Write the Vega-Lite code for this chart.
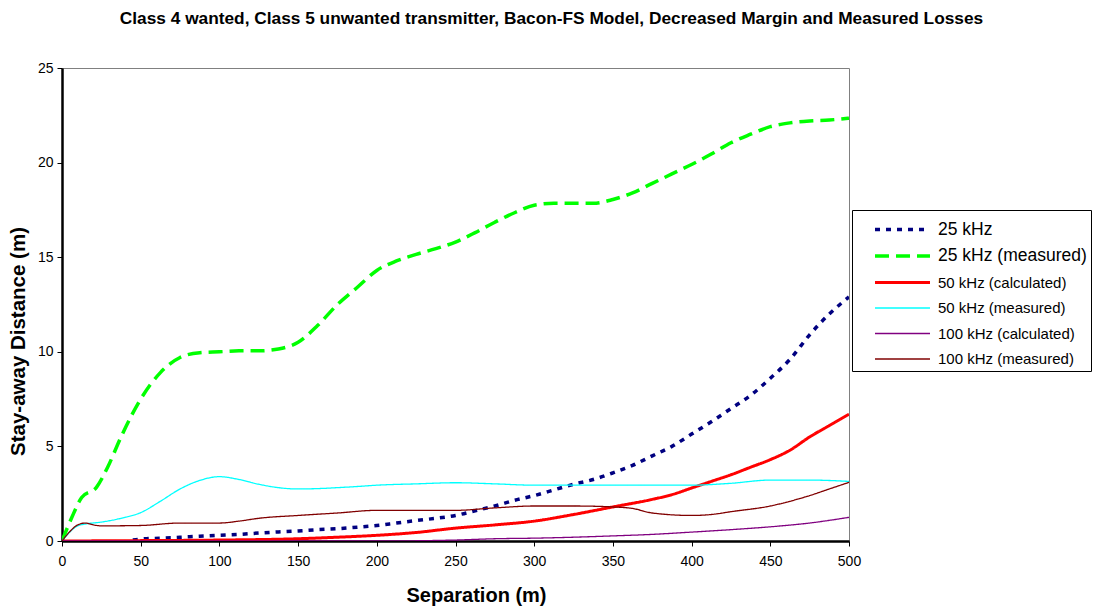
{
  "$schema": "https://vega.github.io/schema/vega-lite/v6.json",
  "autosize": "none",
  "width": 787,
  "height": 473,
  "padding": {"left": 62, "top": 68, "right": 246, "bottom": 67},
  "background": "white",
  "title": {
    "text": "Class 4 wanted, Class 5 unwanted transmitter, Bacon-FS Model, Decreased Margin and Measured Losses",
    "font": "Liberation Sans",
    "fontSize": 17.3,
    "fontWeight": "bold",
    "color": "black",
    "anchor": "middle",
    "dx": 96,
    "offset": 34
  },
  "config": {
    "view": {"stroke": "#808080", "strokeWidth": 1},
    "font": "Liberation Sans"
  },
  "datasets": {
    "d": [
      {"s": "25 kHz", "x": 45, "y": 0.05},
      {"s": "25 kHz", "x": 50, "y": 0.1},
      {"s": "25 kHz", "x": 62.5, "y": 0.15},
      {"s": "25 kHz", "x": 75, "y": 0.2},
      {"s": "25 kHz", "x": 87.5, "y": 0.25},
      {"s": "25 kHz", "x": 100, "y": 0.3},
      {"s": "25 kHz", "x": 112.5, "y": 0.35},
      {"s": "25 kHz", "x": 125, "y": 0.42},
      {"s": "25 kHz", "x": 137.5, "y": 0.48},
      {"s": "25 kHz", "x": 150, "y": 0.53},
      {"s": "25 kHz", "x": 162.5, "y": 0.6},
      {"s": "25 kHz", "x": 175, "y": 0.65},
      {"s": "25 kHz", "x": 187.5, "y": 0.73},
      {"s": "25 kHz", "x": 200, "y": 0.82},
      {"s": "25 kHz", "x": 212.5, "y": 0.95},
      {"s": "25 kHz", "x": 225, "y": 1.08},
      {"s": "25 kHz", "x": 237.5, "y": 1.2},
      {"s": "25 kHz", "x": 250, "y": 1.35},
      {"s": "25 kHz", "x": 262.5, "y": 1.6},
      {"s": "25 kHz", "x": 275, "y": 1.85},
      {"s": "25 kHz", "x": 287.5, "y": 2.15},
      {"s": "25 kHz", "x": 300, "y": 2.4},
      {"s": "25 kHz", "x": 312.5, "y": 2.7},
      {"s": "25 kHz", "x": 325, "y": 3.0},
      {"s": "25 kHz", "x": 337.5, "y": 3.25},
      {"s": "25 kHz", "x": 350, "y": 3.6},
      {"s": "25 kHz", "x": 362.5, "y": 4.0},
      {"s": "25 kHz", "x": 375, "y": 4.5},
      {"s": "25 kHz", "x": 387.5, "y": 5.0},
      {"s": "25 kHz", "x": 400, "y": 5.65},
      {"s": "25 kHz", "x": 412.5, "y": 6.3},
      {"s": "25 kHz", "x": 425, "y": 7.0},
      {"s": "25 kHz", "x": 437.5, "y": 7.7},
      {"s": "25 kHz", "x": 450, "y": 8.6},
      {"s": "25 kHz", "x": 462.5, "y": 9.6},
      {"s": "25 kHz", "x": 475, "y": 10.9},
      {"s": "25 kHz", "x": 487.5, "y": 12.0},
      {"s": "25 kHz", "x": 500, "y": 12.9},

      {"s": "25 kHz (measured)", "x": 0, "y": 0},
      {"s": "25 kHz (measured)", "x": 6, "y": 1.2},
      {"s": "25 kHz (measured)", "x": 12.5, "y": 2.3},
      {"s": "25 kHz (measured)", "x": 22, "y": 2.85},
      {"s": "25 kHz (measured)", "x": 29, "y": 3.9},
      {"s": "25 kHz (measured)", "x": 37.5, "y": 5.5},
      {"s": "25 kHz (measured)", "x": 50, "y": 7.5},
      {"s": "25 kHz (measured)", "x": 62.5, "y": 8.9},
      {"s": "25 kHz (measured)", "x": 75, "y": 9.7},
      {"s": "25 kHz (measured)", "x": 87.5, "y": 9.95},
      {"s": "25 kHz (measured)", "x": 100, "y": 10.0},
      {"s": "25 kHz (measured)", "x": 112.5, "y": 10.05},
      {"s": "25 kHz (measured)", "x": 125, "y": 10.05},
      {"s": "25 kHz (measured)", "x": 137.5, "y": 10.15},
      {"s": "25 kHz (measured)", "x": 150, "y": 10.5},
      {"s": "25 kHz (measured)", "x": 162.5, "y": 11.4},
      {"s": "25 kHz (measured)", "x": 175, "y": 12.5},
      {"s": "25 kHz (measured)", "x": 187.5, "y": 13.4},
      {"s": "25 kHz (measured)", "x": 200, "y": 14.3},
      {"s": "25 kHz (measured)", "x": 212.5, "y": 14.8},
      {"s": "25 kHz (measured)", "x": 225, "y": 15.15},
      {"s": "25 kHz (measured)", "x": 237.5, "y": 15.45},
      {"s": "25 kHz (measured)", "x": 250, "y": 15.8},
      {"s": "25 kHz (measured)", "x": 262.5, "y": 16.3},
      {"s": "25 kHz (measured)", "x": 275, "y": 16.85},
      {"s": "25 kHz (measured)", "x": 287.5, "y": 17.35},
      {"s": "25 kHz (measured)", "x": 300, "y": 17.75},
      {"s": "25 kHz (measured)", "x": 312.5, "y": 17.85},
      {"s": "25 kHz (measured)", "x": 325, "y": 17.85},
      {"s": "25 kHz (measured)", "x": 337.5, "y": 17.85},
      {"s": "25 kHz (measured)", "x": 350, "y": 18.05},
      {"s": "25 kHz (measured)", "x": 362.5, "y": 18.4},
      {"s": "25 kHz (measured)", "x": 375, "y": 18.9},
      {"s": "25 kHz (measured)", "x": 387.5, "y": 19.4},
      {"s": "25 kHz (measured)", "x": 400, "y": 19.9},
      {"s": "25 kHz (measured)", "x": 412.5, "y": 20.45},
      {"s": "25 kHz (measured)", "x": 425, "y": 21.05},
      {"s": "25 kHz (measured)", "x": 437.5, "y": 21.5},
      {"s": "25 kHz (measured)", "x": 450, "y": 21.9},
      {"s": "25 kHz (measured)", "x": 462.5, "y": 22.1},
      {"s": "25 kHz (measured)", "x": 475, "y": 22.2},
      {"s": "25 kHz (measured)", "x": 487.5, "y": 22.25},
      {"s": "25 kHz (measured)", "x": 500, "y": 22.35},

      {"s": "50 kHz (calculated)", "x": 0, "y": 0},
      {"s": "50 kHz (calculated)", "x": 50, "y": 0.02},
      {"s": "50 kHz (calculated)", "x": 100, "y": 0.05},
      {"s": "50 kHz (calculated)", "x": 150, "y": 0.12},
      {"s": "50 kHz (calculated)", "x": 175, "y": 0.2},
      {"s": "50 kHz (calculated)", "x": 200, "y": 0.3},
      {"s": "50 kHz (calculated)", "x": 225, "y": 0.45},
      {"s": "50 kHz (calculated)", "x": 250, "y": 0.68},
      {"s": "50 kHz (calculated)", "x": 275, "y": 0.85},
      {"s": "50 kHz (calculated)", "x": 300, "y": 1.05},
      {"s": "50 kHz (calculated)", "x": 325, "y": 1.4},
      {"s": "50 kHz (calculated)", "x": 350, "y": 1.8},
      {"s": "50 kHz (calculated)", "x": 375, "y": 2.2},
      {"s": "50 kHz (calculated)", "x": 387.5, "y": 2.45},
      {"s": "50 kHz (calculated)", "x": 400, "y": 2.8},
      {"s": "50 kHz (calculated)", "x": 412.5, "y": 3.15},
      {"s": "50 kHz (calculated)", "x": 425, "y": 3.5},
      {"s": "50 kHz (calculated)", "x": 437.5, "y": 3.9},
      {"s": "50 kHz (calculated)", "x": 450, "y": 4.3},
      {"s": "50 kHz (calculated)", "x": 462.5, "y": 4.8},
      {"s": "50 kHz (calculated)", "x": 475, "y": 5.5},
      {"s": "50 kHz (calculated)", "x": 487.5, "y": 6.1},
      {"s": "50 kHz (calculated)", "x": 500, "y": 6.7},

      {"s": "50 kHz (measured)", "x": 0, "y": 0},
      {"s": "50 kHz (measured)", "x": 10, "y": 0.8},
      {"s": "50 kHz (measured)", "x": 15, "y": 0.9},
      {"s": "50 kHz (measured)", "x": 25, "y": 1.0},
      {"s": "50 kHz (measured)", "x": 37.5, "y": 1.2},
      {"s": "50 kHz (measured)", "x": 50, "y": 1.5},
      {"s": "50 kHz (measured)", "x": 62.5, "y": 2.1},
      {"s": "50 kHz (measured)", "x": 75, "y": 2.75},
      {"s": "50 kHz (measured)", "x": 87.5, "y": 3.2},
      {"s": "50 kHz (measured)", "x": 100, "y": 3.4},
      {"s": "50 kHz (measured)", "x": 112.5, "y": 3.25},
      {"s": "50 kHz (measured)", "x": 125, "y": 3.0},
      {"s": "50 kHz (measured)", "x": 137.5, "y": 2.82},
      {"s": "50 kHz (measured)", "x": 150, "y": 2.75},
      {"s": "50 kHz (measured)", "x": 162.5, "y": 2.77},
      {"s": "50 kHz (measured)", "x": 175, "y": 2.82},
      {"s": "50 kHz (measured)", "x": 187.5, "y": 2.88},
      {"s": "50 kHz (measured)", "x": 200, "y": 2.95},
      {"s": "50 kHz (measured)", "x": 225, "y": 3.02},
      {"s": "50 kHz (measured)", "x": 250, "y": 3.08},
      {"s": "50 kHz (measured)", "x": 275, "y": 3.02},
      {"s": "50 kHz (measured)", "x": 300, "y": 2.95},
      {"s": "50 kHz (measured)", "x": 325, "y": 2.95},
      {"s": "50 kHz (measured)", "x": 350, "y": 2.95},
      {"s": "50 kHz (measured)", "x": 375, "y": 2.95},
      {"s": "50 kHz (measured)", "x": 400, "y": 2.95},
      {"s": "50 kHz (measured)", "x": 425, "y": 3.05},
      {"s": "50 kHz (measured)", "x": 450, "y": 3.22},
      {"s": "50 kHz (measured)", "x": 475, "y": 3.22},
      {"s": "50 kHz (measured)", "x": 500, "y": 3.15},

      {"s": "100 kHz (calculated)", "x": 0, "y": 0},
      {"s": "100 kHz (calculated)", "x": 100, "y": 0},
      {"s": "100 kHz (calculated)", "x": 200, "y": 0},
      {"s": "100 kHz (calculated)", "x": 250, "y": 0.05},
      {"s": "100 kHz (calculated)", "x": 275, "y": 0.12},
      {"s": "100 kHz (calculated)", "x": 300, "y": 0.15},
      {"s": "100 kHz (calculated)", "x": 325, "y": 0.2},
      {"s": "100 kHz (calculated)", "x": 350, "y": 0.27},
      {"s": "100 kHz (calculated)", "x": 375, "y": 0.35},
      {"s": "100 kHz (calculated)", "x": 400, "y": 0.47},
      {"s": "100 kHz (calculated)", "x": 425, "y": 0.6},
      {"s": "100 kHz (calculated)", "x": 450, "y": 0.75},
      {"s": "100 kHz (calculated)", "x": 475, "y": 0.95},
      {"s": "100 kHz (calculated)", "x": 500, "y": 1.25},

      {"s": "100 kHz (measured)", "x": 0, "y": 0},
      {"s": "100 kHz (measured)", "x": 5, "y": 0.5},
      {"s": "100 kHz (measured)", "x": 10, "y": 0.85},
      {"s": "100 kHz (measured)", "x": 15, "y": 0.95},
      {"s": "100 kHz (measured)", "x": 20, "y": 0.85},
      {"s": "100 kHz (measured)", "x": 25, "y": 0.8},
      {"s": "100 kHz (measured)", "x": 50, "y": 0.82},
      {"s": "100 kHz (measured)", "x": 75, "y": 0.95},
      {"s": "100 kHz (measured)", "x": 100, "y": 0.95},
      {"s": "100 kHz (measured)", "x": 112.5, "y": 1.05},
      {"s": "100 kHz (measured)", "x": 125, "y": 1.2},
      {"s": "100 kHz (measured)", "x": 150, "y": 1.35},
      {"s": "100 kHz (measured)", "x": 175, "y": 1.48},
      {"s": "100 kHz (measured)", "x": 200, "y": 1.62},
      {"s": "100 kHz (measured)", "x": 225, "y": 1.62},
      {"s": "100 kHz (measured)", "x": 250, "y": 1.62},
      {"s": "100 kHz (measured)", "x": 275, "y": 1.75},
      {"s": "100 kHz (measured)", "x": 300, "y": 1.85},
      {"s": "100 kHz (measured)", "x": 325, "y": 1.85},
      {"s": "100 kHz (measured)", "x": 350, "y": 1.8},
      {"s": "100 kHz (measured)", "x": 362.5, "y": 1.72},
      {"s": "100 kHz (measured)", "x": 375, "y": 1.48},
      {"s": "100 kHz (measured)", "x": 400, "y": 1.35},
      {"s": "100 kHz (measured)", "x": 412.5, "y": 1.4},
      {"s": "100 kHz (measured)", "x": 425, "y": 1.55},
      {"s": "100 kHz (measured)", "x": 450, "y": 1.85},
      {"s": "100 kHz (measured)", "x": 462.5, "y": 2.1},
      {"s": "100 kHz (measured)", "x": 475, "y": 2.4},
      {"s": "100 kHz (measured)", "x": 487.5, "y": 2.75},
      {"s": "100 kHz (measured)", "x": 500, "y": 3.1}
    ]
  },
  "data": {"name": "d"},
  "mark": {"type": "line", "interpolate": "monotone", "clip": true},
  "encoding": {
    "x": {
      "field": "x", "type": "quantitative",
      "scale": {"domain": [0, 500], "nice": false, "zero": false},
      "axis": {
        "title": "Separation (m)",
        "values": [0, 50, 100, 150, 200, 250, 300, 350, 400, 450, 500],
        "grid": false,
        "domainColor": "black", "domainWidth": 2.5,
        "tickColor": "black", "tickSize": 5, "tickWidth": 1,
        "labelFont": "Liberation Sans", "labelFontSize": 14, "labelColor": "black",
        "labelPadding": 8, "labelFlush": false,
        "titleFont": "Liberation Sans", "titleFontSize": 20, "titleFontWeight": "bold",
        "titleColor": "black", "titlePadding": 17, "titleX": 414
      }
    },
    "y": {
      "field": "y", "type": "quantitative",
      "scale": {"domain": [0, 25], "nice": false},
      "axis": {
        "title": "Stay-away Distance (m)",
        "values": [0, 5, 10, 15, 20, 25],
        "grid": false,
        "domainColor": "black", "domainWidth": 2.5,
        "tickColor": "black", "tickSize": 5, "tickWidth": 1,
        "labelFont": "Liberation Sans", "labelFontSize": 14, "labelColor": "black",
        "labelPadding": 4, "labelFlush": false,
        "titleFont": "Liberation Sans", "titleFontSize": 20.5, "titleFontWeight": "bold",
        "titleColor": "black", "titlePadding": 9, "titleY": 273
      }
    },
    "color": {
      "field": "s", "type": "nominal",
      "scale": {
        "domain": ["25 kHz", "25 kHz (measured)", "50 kHz (calculated)", "50 kHz (measured)", "100 kHz (calculated)", "100 kHz (measured)"],
        "range": ["#000080", "#00FF00", "#FF0000", "#00FFFF", "#800080", "#800000"]
      },
      "legend": {
        "title": null,
        "orient": "none",
        "legendX": 790,
        "legendY": 142,
        "symbolType": "M-2,0L2,0",
        "symbolSize": 756,
        "symbolOffset": 31,
        "labelFont": "Liberation Sans",
        "labelFontSize": 15,
        "labelColor": "black",
        "labelOffset": 20,
        "rowPadding": 2.5,
        "padding": 4,
        "strokeColor": "black",
        "fillColor": "white",
        "labelLimit": 300,
        "encode": {
          "labels": {"update": {"fontSize": {"signal": "datum.index < 2 ? 17.5 : 15"}}}
        }
      }
    },
    "strokeDash": {
      "field": "s", "type": "nominal",
      "scale": {
        "domain": ["25 kHz", "25 kHz (measured)", "50 kHz (calculated)", "50 kHz (measured)", "100 kHz (calculated)", "100 kHz (measured)"],
        "range": [[5, 6], [14, 7], [1, 0], [1, 0], [1, 0], [1, 0]]
      }
    },
    "strokeWidth": {
      "field": "s", "type": "nominal",
      "scale": {
        "type": "ordinal",
        "domain": ["25 kHz", "25 kHz (measured)", "50 kHz (calculated)", "50 kHz (measured)", "100 kHz (calculated)", "100 kHz (measured)"],
        "range": [3.5, 3.5, 3, 1.3, 1.3, 1.3]
      }
    }
  }
}
